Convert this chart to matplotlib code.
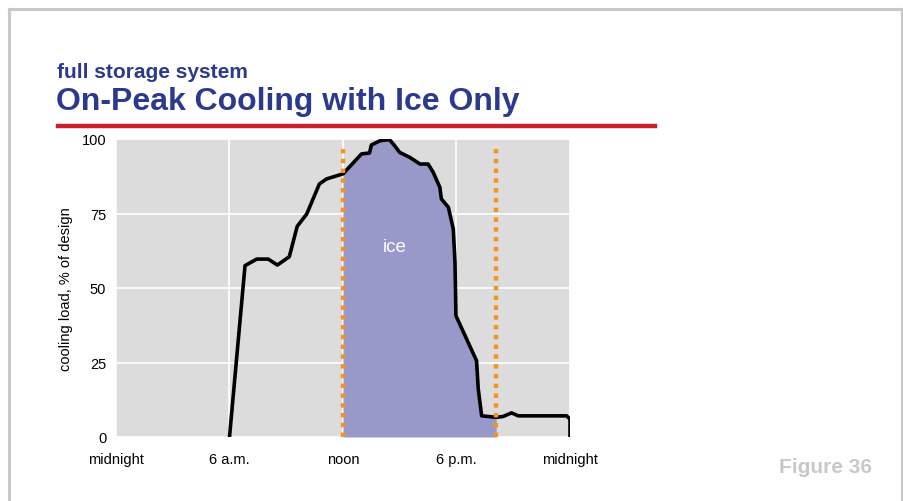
from matplotlib import pyplot as plt
from matplotlib.lines import Line2D
import numpy as np

plt.rcParams['font.family'] = ['Liberation Sans', 'DejaVu Sans']

# hourly load profile, % of design (hour of day, load)
hours = [6.0, 6.82, 7.44, 8.05, 8.53, 9.16, 9.58, 10.08, 10.75, 11.13, 12.0,
         12.98, 13.4, 13.5, 13.95, 14.45, 14.66, 15.0, 15.54, 16.07, 16.5,
         16.77, 17.12, 17.2, 17.57, 17.83, 17.92, 17.97, 19.06, 19.15, 19.33,
         20.12, 20.47, 20.91, 21.26, 23.82, 24.0, 24.0]
load = [0, 57.5, 59.7, 59.7, 57.7, 60.5, 70.7, 74.8, 84.9, 86.6, 88.3,
        95.0, 95.3, 98.0, 99.4, 99.8, 98.3, 95.5, 93.8, 91.6, 91.6,
        88.8, 83.8, 79.9, 77.1, 69.8, 58.6, 40.7, 25.6, 16.1, 7.1,
        6.6, 6.9, 8.1, 7.1, 7.1, 6.0, 0]
on_peak_start = 12
on_peak_end = 20.1

x_ticks = [0, 6, 12, 18, 24]
x_labels = ['midnight', '6 a.m.', 'noon', '6 p.m.', 'midnight']
y_ticks = [0, 25, 50, 75, 100]

navy = '#2b3a8f'
orange = '#f7941d'

fig = plt.figure(figsize=(9.04, 5.02), dpi=100)
fig.patch.set_facecolor('white')

# outer frame (open at bottom)
W, H = 904, 502
frame = dict(color='#c8c8c8', lw=2.2, transform=fig.transFigure)
fig.add_artist(Line2D([8.5 / W, 8.5 / W], [0, 1 - 9.5 / H], **frame))
fig.add_artist(Line2D([8.5 / W, 902.5 / W], [1 - 9.5 / H, 1 - 9.5 / H], **frame))
fig.add_artist(Line2D([902.5 / W, 902.5 / W], [0, 1 - 9.5 / H], **frame))

fig.text(57 / W, 1 - 73 / H, 'full storage system', color=navy, fontsize=15,
         fontweight='bold', va='center', ha='left')
fig.text(56 / W, 1 - 102 / H, 'On-Peak Cooling with Ice Only', color=navy,
         fontsize=23, fontweight='bold', va='center', ha='left')
fig.add_artist(Line2D([58 / W, 655 / W], [1 - 127 / H, 1 - 127 / H],
                      color='#c9222c', lw=3.2, transform=fig.transFigure))
fig.text(872 / W, 1 - 468 / H, 'Figure 36', color='#c8c8c8', fontsize=15,
         fontweight='bold', va='center', ha='right')

ax = fig.add_axes([116 / W, 1 - 438 / H, 454 / W, 298 / H])
ax.set_facecolor('#dcdcdc')
ax.set_xlim(0, 24)
ax.set_ylim(0, 100)
for s in ax.spines.values():
    s.set_visible(False)
ax.set_xticks(x_ticks)
ax.set_xticklabels(x_labels)
ax.set_yticks(y_ticks)
ax.tick_params(axis='x', length=0, labelsize=10.5, pad=11)
ax.tick_params(axis='y', length=0, labelsize=10.5, pad=7)
ax.grid(True, color='white', lw=1.2)
ax.set_axisbelow(True)
ax.set_ylabel('cooling load, % of design', fontsize=10.5)
ax.yaxis.set_label_coords(-0.095, 0.5)

h = np.array(hours)
l = np.array(load)
mask = (h >= on_peak_start) & (h <= on_peak_end)
fh = np.concatenate([[on_peak_start], h[mask], [on_peak_end]])
fl = np.concatenate([[np.interp(on_peak_start, h[:-1], l[:-1])], l[mask],
                     [np.interp(on_peak_end, h[:-1], l[:-1])]])
ax.fill_between(fh, 0, fl, color='#9999c9', lw=0, zorder=2)
ax.plot(hours, load, color='black', lw=2.6, zorder=4, solid_joinstyle='round')

for xv in (on_peak_start, on_peak_end):
    ax.plot([xv, xv], [0, 98.3], color=orange, lw=3.2, dashes=(1, 1.2), zorder=5)

ax.text(14.75, 64, 'ice', color='white', fontsize=13.5, ha='center', va='center', zorder=6)

plt.savefig('out.png', dpi=100)
